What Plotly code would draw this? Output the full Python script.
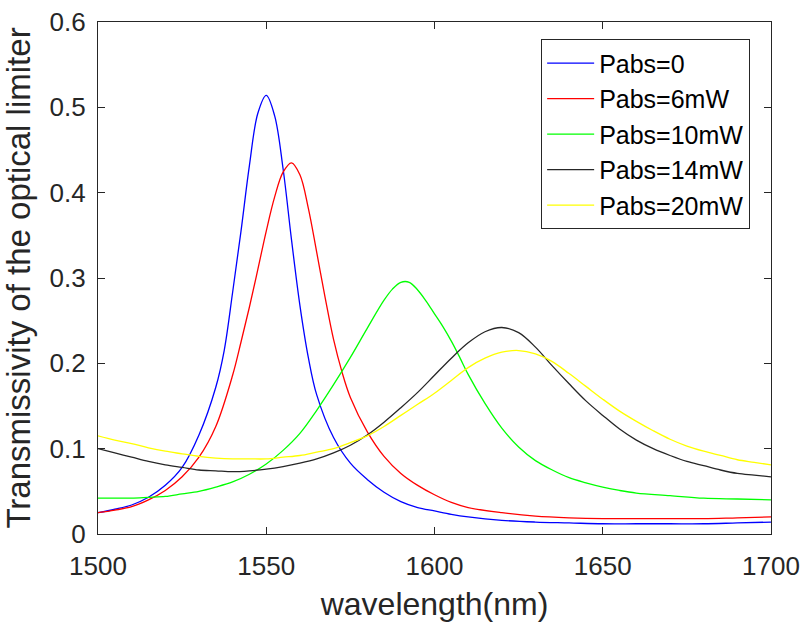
import plotly.graph_objects as go

# Transmissivity spectra of the optical limiter for several absorbed powers
series_names = ["Pabs=0", "Pabs=6mW", "Pabs=10mW", "Pabs=14mW", "Pabs=20mW"]
series_colors = ["#0000ff", "#ff0000", "#00ff00", "#262626", "#ffff00"]

wl_p0 = [1500, 1505, 1510, 1515, 1520, 1525, 1530, 1535, 1537.5, 1540, 1542.5, 1545, 1547.5,
         1550, 1552.5, 1555, 1557.5, 1560, 1562.5, 1565, 1570, 1575, 1580, 1585, 1590, 1595,
         1600, 1605, 1610, 1620, 1630, 1640, 1650, 1660, 1670, 1680, 1690, 1700]
t_p0 = [0.025, 0.029, 0.034, 0.043, 0.057, 0.078, 0.116, 0.172, 0.215, 0.283, 0.355, 0.432, 0.493,
        0.514, 0.490, 0.428, 0.345, 0.268, 0.207, 0.163, 0.113, 0.083, 0.064, 0.049, 0.038, 0.031,
        0.027, 0.023, 0.020, 0.016, 0.014, 0.013, 0.012, 0.012, 0.012, 0.012, 0.013, 0.014]

wl_p6 = [1500, 1505, 1510, 1515, 1520, 1525, 1530, 1535, 1540, 1542.5, 1545, 1547.5, 1550,
         1552.5, 1555, 1557.5, 1560, 1562.5, 1565, 1567.5, 1570, 1572.5, 1575, 1580, 1585, 1590,
         1595, 1600, 1605, 1610, 1620, 1630, 1640, 1650, 1660, 1670, 1680, 1690, 1700]
t_p6 = [0.025, 0.028, 0.032, 0.040, 0.051, 0.067, 0.090, 0.126, 0.186, 0.225, 0.266, 0.310, 0.355,
        0.395, 0.424, 0.435, 0.421, 0.382, 0.330, 0.277, 0.228, 0.190, 0.160, 0.120, 0.091, 0.071,
        0.057, 0.046, 0.037, 0.031, 0.025, 0.021, 0.019, 0.018, 0.018, 0.018, 0.018, 0.019, 0.020]

wl_p10 = [1500, 1505, 1510, 1515, 1520, 1525, 1530, 1535, 1540, 1545, 1550, 1555, 1560, 1565,
          1570, 1575, 1580, 1585, 1587.5, 1590, 1592.5, 1595, 1597.5, 1600, 1602.5, 1605, 1607.5,
          1610, 1615, 1620, 1625, 1630, 1635, 1640, 1645, 1650, 1655, 1660, 1670, 1680, 1690, 1700]
t_p10 = [0.042, 0.042, 0.042, 0.043, 0.044, 0.047, 0.050, 0.055, 0.061, 0.070, 0.082, 0.098, 0.118,
         0.145, 0.175, 0.207, 0.241, 0.274, 0.287, 0.295, 0.295, 0.286, 0.273, 0.258, 0.243, 0.226,
         0.207, 0.187, 0.153, 0.124, 0.102, 0.086, 0.075, 0.066, 0.060, 0.055, 0.051, 0.048, 0.045,
         0.042, 0.041, 0.040]

wl_p14 = [1500, 1505, 1510, 1515, 1520, 1525, 1530, 1535, 1540, 1545, 1550, 1555, 1560, 1565,
          1570, 1575, 1580, 1585, 1590, 1595, 1600, 1605, 1610, 1615, 1620, 1625, 1630, 1635, 1640,
          1645, 1650, 1655, 1660, 1665, 1670, 1675, 1680, 1685, 1690, 1695, 1700]
t_p14 = [0.100, 0.095, 0.090, 0.085, 0.081, 0.078, 0.075, 0.074, 0.073, 0.074, 0.076, 0.079, 0.083,
         0.088, 0.095, 0.104, 0.116, 0.131, 0.148, 0.166, 0.186, 0.206, 0.224, 0.237, 0.242, 0.236,
         0.219, 0.197, 0.176, 0.156, 0.139, 0.123, 0.110, 0.100, 0.092, 0.085, 0.080, 0.075, 0.071,
         0.069, 0.067]

wl_p20 = [1500, 1505, 1510, 1515, 1520, 1525, 1530, 1535, 1540, 1545, 1550, 1555, 1560, 1565,
          1570, 1575, 1580, 1585, 1590, 1595, 1600, 1605, 1610, 1615, 1620, 1625, 1630, 1635, 1640,
          1645, 1650, 1655, 1660, 1665, 1670, 1675, 1680, 1685, 1690, 1695, 1700]
t_p20 = [0.115, 0.110, 0.106, 0.101, 0.097, 0.094, 0.091, 0.089, 0.088, 0.088, 0.088, 0.090, 0.092,
         0.096, 0.100, 0.107, 0.115, 0.126, 0.139, 0.152, 0.165, 0.180, 0.195, 0.206, 0.213, 0.215,
         0.211, 0.202, 0.188, 0.173, 0.158, 0.144, 0.132, 0.121, 0.111, 0.103, 0.097, 0.092, 0.087,
         0.084, 0.081]

x_ticks = [1500, 1550, 1600, 1650, 1700]
y_ticks = [0, 0.1, 0.2, 0.3, 0.4, 0.5, 0.6]
y_tick_text = ["0", "0.1", "0.2", "0.3", "0.4", "0.5", "0.6"]

FONT = "Liberation Sans, Arial, Helvetica, sans-serif"
INK = "#262626"

fig = go.Figure()
for name, color, xs, ys in zip(series_names, series_colors,
                               [wl_p0, wl_p6, wl_p10, wl_p14, wl_p20],
                               [t_p0, t_p6, t_p10, t_p14, t_p20]):
    fig.add_trace(go.Scatter(
        x=xs, y=ys, name=name, mode="lines",
        line=dict(color=color, width=1.3, shape="spline", smoothing=1.0),
    ))

axis_common = dict(
    showline=True, linecolor=INK, linewidth=1.2, mirror="ticks",
    ticks="inside", ticklen=7, tickwidth=1, tickcolor=INK,
    showgrid=False, zeroline=False, automargin=False,
    tickfont=dict(family=FONT, size=26, color=INK),
)

fig.update_xaxes(
    range=[1500, 1700], tickvals=x_ticks, ticktext=[str(v) for v in x_ticks],
    ticklabelstandoff=9,
    title=dict(text="wavelength(nm)", font=dict(family=FONT, size=32, color=INK), standoff=12),
    **axis_common,
)
fig.update_yaxes(
    range=[0, 0.6], tickvals=y_ticks, ticktext=y_tick_text,
    ticklabelstandoff=6,
    title=dict(text="Transmissivity of the optical limiter",
               font=dict(family=FONT, size=33, color=INK), standoff=8),
    **axis_common,
)

fig.update_layout(
    width=803, height=625,
    margin=dict(l=98, r=32, t=22, b=91),
    plot_bgcolor="white", paper_bgcolor="white",
    legend=dict(
        x=0.969, y=0.966, xanchor="right", yanchor="top",
        bgcolor="white", bordercolor=INK, borderwidth=1,
        font=dict(family=FONT, size=25, color="#000000"),
        itemwidth=47, tracegroupgap=0,
    ),
)

fig.write_html("out.html")
